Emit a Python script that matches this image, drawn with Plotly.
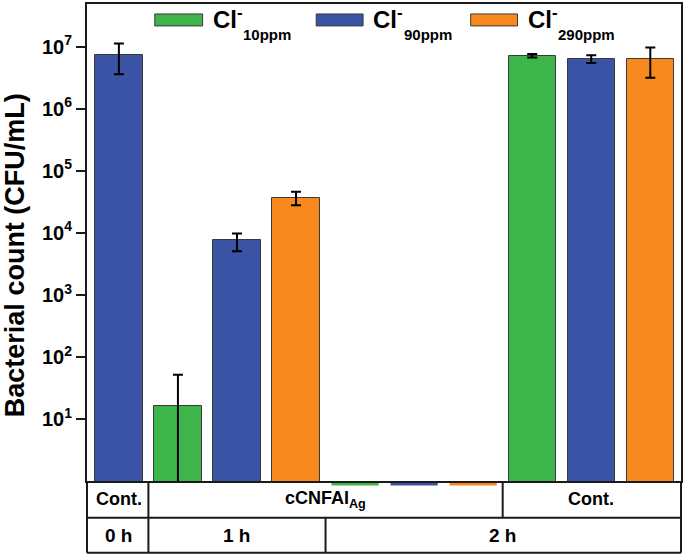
import plotly.graph_objects as go

# ---------------- data ----------------
green_x = [1, 4, 7]
green_vals = [16.2, 0, 7.2e6]
green_err_plus = [35.3, 0, 0.45e6]
green_err_minus = [15.7, 0, 0.45e6]

blue_x = [0, 2, 5, 8]
blue_vals = [7.5e6, 7.6e3, 0, 6.34e6]
blue_err_plus = [3.8e6, 2.15e3, 0, 1.0e6]
blue_err_minus = [3.9e6, 2.54e3, 0, 0.87e6]

orange_x = [3, 6, 9]
orange_vals = [3.69e4, 0, 6.34e6]
orange_err_plus = [0.9e4, 0, 3.4e6]
orange_err_minus = [0.91e4, 0, 3.16e6]

series_names = ["10ppm", "90ppm", "290ppm"]
series_colors = ["#3db54a", "#3a53a4", "#f7891f"]

ytick_vals = [1e1, 1e2, 1e3, 1e4, 1e5, 1e6, 1e7]
ytick_labels = ["<b>10<sup>%d</sup></b>" % e for e in range(1, 8)]

row1_labels = ["Cont.", "cCNFAI<sub>Ag</sub>", "Cont."]
row2_labels = ["0 h", "1 h", "2 h"]

# ---------------- layout geometry ----------------
W, H = 685, 554
ML, MR, MT, MB = 87, 2, 2, 73
PW, PH = W - ML - MR, H - MT - MB
XR = [-0.54, 9.52]
YR = [0, 7.69]
FONT = "Liberation Sans, Arial, sans-serif"
LINE = "#1a1a1a"


def py(p):  # pixel y -> paper
    return (H - MB - p) / PH


def px(p):  # pixel x -> paper
    return (p - ML) / PW


fig = go.Figure()

series = [
    (green_x, green_vals, green_err_plus, green_err_minus),
    (blue_x, blue_vals, blue_err_plus, blue_err_minus),
    (orange_x, orange_vals, orange_err_plus, orange_err_minus),
]

shapes = []
annotations = []

for (xs, vals, ep, em), name, col in zip(series, series_names, series_colors):
    fig.add_trace(go.Bar(
        x=xs, y=[v if v > 0 else None for v in vals], width=0.8, name=name,
        marker=dict(color=col, line=dict(color="#3a3a3a", width=1)),
        error_y=dict(type="data", symmetric=False, array=ep, arrayminus=em,
                     color="black", thickness=2, width=5),
        showlegend=False,
    ))
    # zero values: drawn as a flat line just on the axis floor
    for xi, v in zip(xs, vals):
        if v == 0:
            shapes.append(dict(type="line", xref="x", yref="paper",
                               x0=xi - 0.4, x1=xi + 0.4, y0=py(483.5), y1=py(483.5),
                               line=dict(color=col, width=4), layer="below"))

fig.update_layout(
    width=W, height=H,
    margin=dict(l=ML, r=MR, t=MT, b=MB),
    plot_bgcolor="white", paper_bgcolor="white",
    bargap=0,
    font=dict(family=FONT, color="black"),
    xaxis=dict(range=XR, showticklabels=False, ticks="", showgrid=False,
               zeroline=False, showline=True, mirror=True,
               linecolor=LINE, linewidth=2),
    yaxis=dict(type="log", range=YR, tickvals=ytick_vals, ticktext=ytick_labels,
               ticks="outside", ticklen=9, tickwidth=2, tickcolor=LINE,
               tickfont=dict(family=FONT, size=20, color="black"),
               showgrid=False, zeroline=False, showline=True, mirror=True,
               linecolor=LINE, linewidth=2),
)

# y-axis title
annotations.append(dict(
    text="<b>Bacterial count (CFU/mL)</b>", textangle=-90,
    xref="paper", yref="paper", x=px(15), y=py(254),
    xanchor="center", yanchor="middle", showarrow=False,
    font=dict(family=FONT, size=27, color="black"),
))

# custom legend
leg_sw = [(155, 203), (317, 364), (472, 519)]
for (x0, x1), name, col in zip(leg_sw, series_names, series_colors):
    shapes.append(dict(type="rect", xref="paper", yref="paper",
                       x0=px(x0), x1=px(x1), y0=py(24), y1=py(12),
                       fillcolor=col, line=dict(color="#3a3a3a", width=1)))
    annotations.append(dict(
        text="<b>Cl<sup>-</sup></b>", xref="paper", yref="paper",
        x=px(x1 + 8), y=py(16), xanchor="left", yanchor="middle",
        showarrow=False, font=dict(family=FONT, size=24, color="black"),
    ))
    annotations.append(dict(
        text="<b>%s</b>" % name, xref="paper", yref="paper",
        x=px(x1 + 39), y=py(33), xanchor="left", yanchor="middle",
        showarrow=False, font=dict(family=FONT, size=15, color="black"),
    ))

# category table below the plot
y_top, y_mid, y_bot = 481, 518, 553
tbl = dict(color=LINE, width=2)
shapes += [
    dict(type="line", xref="paper", yref="paper", x0=0, x1=1, y0=py(y_mid), y1=py(y_mid), line=tbl),
    dict(type="line", xref="paper", yref="paper", x0=0, x1=1, y0=py(y_bot), y1=py(y_bot), line=tbl),
    dict(type="line", xref="paper", yref="paper", x0=0, x1=0, y0=py(y_top), y1=py(y_bot), line=tbl),
    dict(type="line", xref="paper", yref="paper", x0=1, x1=1, y0=py(y_top), y1=py(y_bot), line=tbl),
    dict(type="line", xref="x", yref="paper", x0=0.5, x1=0.5, y0=py(y_top), y1=py(y_bot), line=tbl),
    dict(type="line", xref="x", yref="paper", x0=6.5, x1=6.5, y0=py(y_top), y1=py(y_mid), line=tbl),
    dict(type="line", xref="x", yref="paper", x0=3.5, x1=3.5, y0=py(y_mid), y1=py(y_bot), line=tbl),
]
row1_x = [0, 3.5, 8.0]
row2_x = [0, 2.0, 6.5]
for lab, xc in zip(row1_labels, row1_x):
    annotations.append(dict(
        text="<b>%s</b>" % lab, xref="x", yref="paper", x=xc, y=py((y_top + y_mid) / 2),
        xanchor="center", yanchor="middle", showarrow=False,
        font=dict(family=FONT, size=18, color="black"),
    ))
for lab, xc in zip(row2_labels, row2_x):
    annotations.append(dict(
        text="<b>%s</b>" % lab, xref="x", yref="paper", x=xc, y=py((y_mid + y_bot) / 2),
        xanchor="center", yanchor="middle", showarrow=False,
        font=dict(family=FONT, size=19, color="black"),
    ))

fig.update_layout(shapes=shapes, annotations=annotations)
fig.write_html("out.html", config={"displayModeBar": False},
               post_script="document.body.style.margin='0';document.body.style.padding='0';")
